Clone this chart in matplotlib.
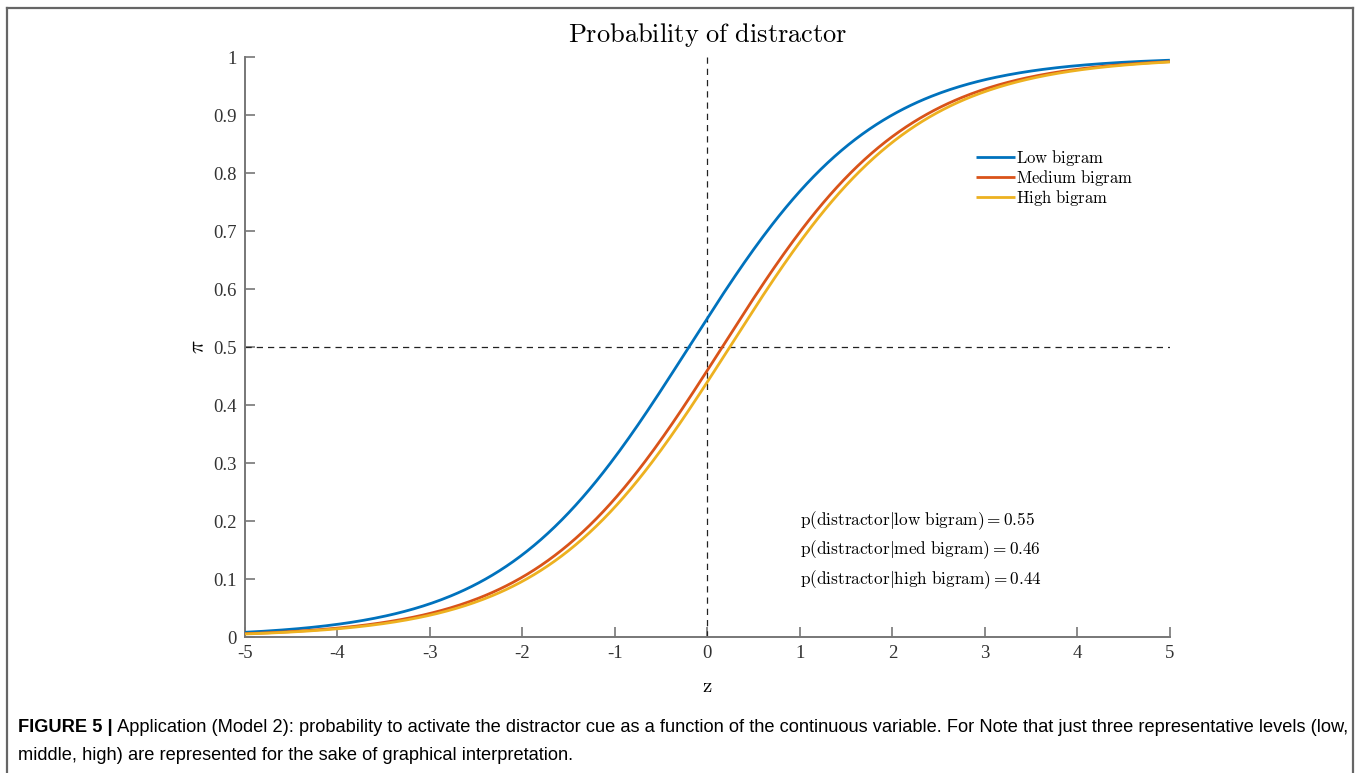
import numpy as np
import matplotlib
matplotlib.use("Agg")
import matplotlib.pyplot as plt
from matplotlib.lines import Line2D

plt.rcParams['mathtext.fontset'] = 'cm'

# model 2: logistic curves, one per bigram level
levels = ['Low bigram', 'Medium bigram', 'High bigram']
short = ['low', 'med', 'high']
p_at_zero = [0.55, 0.46, 0.44]
slope = 1.0
colors = ['#0072BD', '#D95319', '#EDB120']

x_ticks = [-5, -4, -3, -2, -1, 0, 1, 2, 3, 4, 5]
y_ticks = [0, 0.1, 0.2, 0.3, 0.4, 0.5, 0.6, 0.7, 0.8, 0.9, 1]
y_tick_labels = ['0', '0.1', '0.2', '0.3', '0.4', '0.5', '0.6', '0.7', '0.8', '0.9', '1']

caption_bold = 'FIGURE 5 |'
caption_1 = (' Application (Model 2): probability to activate the distractor cue as a function '
             'of the continuous variable. For Note that just three representative levels (low,')
caption_2 = 'middle, high) are represented for the sake of graphical interpretation.'

fig = plt.figure(figsize=(13.6, 7.73), dpi=100)
ax = fig.add_axes([0.1801, 0.1759, 0.6801, 0.7503])

z = np.linspace(-5, 5, 401)
for p0, col, lab in zip(p_at_zero, colors, levels):
    b0 = np.log(p0 / (1 - p0))
    pi = 1.0 / (1.0 + np.exp(-(b0 + slope * z)))
    ax.plot(z, pi, color=col, lw=2.0, label=r'$\mathrm{%s}$' % lab.replace(' ', r'\ '),
            solid_capstyle='butt', zorder=3)

ax.axvline(0, color='#222222', lw=0.9, ls=(0, (5, 4)), zorder=2)
ax.axhline(0.5, color='#222222', lw=0.9, ls=(0, (5, 4)), zorder=2)

ax.set_xlim(-5, 5)
ax.set_ylim(0, 1)
ax.set_xticks(x_ticks)
ax.set_xticklabels([str(t) for t in x_ticks])
ax.set_yticks(y_ticks)
ax.set_yticklabels(y_tick_labels)
for lbl in ax.get_xticklabels() + ax.get_yticklabels():
    lbl.set_fontfamily('Liberation Serif')
    lbl.set_fontsize(13.5)
    lbl.set_color('#333333')

for s in ['top', 'right']:
    ax.spines[s].set_visible(False)
for s in ['left', 'bottom']:
    ax.spines[s].set_color('#777777')
    ax.spines[s].set_linewidth(1.4)
ax.tick_params(direction='in', length=7, width=1.2, color='#777777', pad=6)

ax.set_title(r'$\mathrm{Probability\ of\ distractor}$', fontsize=19, pad=11)
ax.set_xlabel(r'$\mathrm{z}$', fontsize=15, labelpad=10)
ax.set_ylabel(r'$\pi$', fontsize=16)
ax.yaxis.set_label_coords(-0.040, 0.5)

leg = ax.legend(loc='upper left', bbox_to_anchor=(0.7835, 0.855), frameon=False,
                fontsize=12, handlelength=2.3, handletextpad=0.1,
                labelspacing=0.0, borderaxespad=0)

for i, (s, p0) in enumerate(zip(short, p_at_zero)):
    ax.text(1.0, 0.201 - i * 0.051,
            r'$\mathrm{p(distractor|%s\ bigram) = %.2f}$' % (s, p0),
            fontsize=12.4, ha='left', va='center', transform=ax.transData)

# figure frame and caption
frame = dict(color='#666666', lw=1.6, transform=fig.transFigure)
fig.add_artist(Line2D([0.0055, 0.995], [0.990, 0.990], **frame))
fig.add_artist(Line2D([0.0055, 0.0055], [0.0, 0.990], **frame))
fig.add_artist(Line2D([0.995, 0.995], [0.0, 0.990], **frame))

cap_x = 0.0135
target_w = 1327.0
fs = 13.5
t_bold = fig.text(cap_x, 0.053, caption_bold, fontfamily='Liberation Sans',
                  fontweight='bold', fontsize=fs, va='baseline', ha='left')
t_rest = fig.text(cap_x, 0.053, caption_1, fontfamily='Liberation Sans',
                  fontsize=fs, va='baseline', ha='left')
fig.canvas.draw()
r = fig.canvas.get_renderer()
w = t_bold.get_window_extent(r).width + t_rest.get_window_extent(r).width
fs = fs * target_w / w
t_bold.set_fontsize(fs)
t_rest.set_fontsize(fs)
fig.canvas.draw()
x_after = t_bold.get_window_extent(r).x1 / fig.bbox.width
t_rest.set_x(x_after)
fig.text(cap_x, 0.017, caption_2, fontfamily='Liberation Sans',
         fontsize=fs, va='baseline', ha='left')

fig.savefig('out.png', dpi=100)
